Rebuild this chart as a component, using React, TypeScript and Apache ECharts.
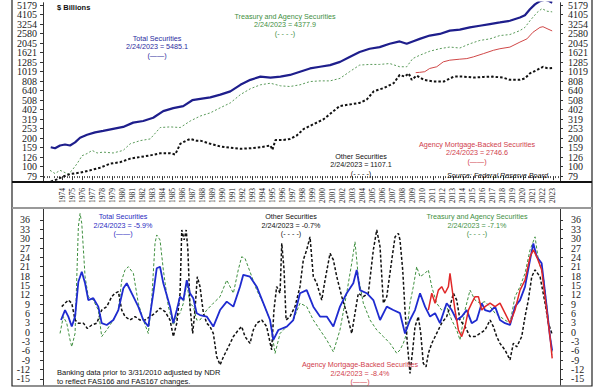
import React, { useEffect, useRef } from "react";
import * as echarts from "echarts";

// ---------- axis labels ----------
const LEVEL_LABELS = [79, 100, 126, 159, 200, 253, 319, 402, 508, 640, 808, 1019, 1285, 1621, 2045, 2580, 3254, 4105, 5179];
const PCT_LABELS = [-15, -12, -9, -6, -3, 0, 3, 6, 9, 12, 15, 18, 21, 24, 27, 30, 33, 36];
const YEAR_LABELS = [1974, 1975, 1976, 1977, 1978, 1979, 1980, 1981, 1982, 1983, 1984, 1985, 1986, 1987, 1988, 1989, 1990, 1991, 1992, 1993, 1994, 1995, 1996, 1997, 1998, 1999, 2000, 2001, 2002, 2003, 2004, 2005, 2006, 2007, 2008, 2009, 2010, 2011, 2012, 2013, 2014, 2015, 2016, 2017, 2018, 2019, 2020, 2021, 2022, 2023];

// ---------- top panel: levels ($ billions) ----------
const totalLevel: [number, number][] = [
  [1972.87, 160], [1973.3, 156], [1973.8, 167], [1974.3, 171], [1974.8, 167], [1975.3, 180], [1975.8, 202], [1976.5, 217],
  [1977.3, 230], [1978.1, 239], [1979.1, 251], [1980.1, 263], [1981.1, 292], [1982.1, 304], [1983.1, 329], [1984.1, 387],
  [1985.1, 416], [1986.1, 437], [1987.0, 505], [1987.8, 521], [1988.8, 542], [1989.8, 579], [1990.8, 627], [1991.8, 736],
  [1992.8, 831], [1993.8, 899], [1994.8, 878], [1995.8, 899], [1996.75, 937], [1997.75, 1014], [1998.75, 1098], [1999.75, 1144],
  [2000.75, 1192], [2001.75, 1290], [2002.7, 1456], [2003.7, 1642], [2004.7, 1778], [2005.7, 1850], [2006.7, 2006], [2007.7, 2125],
  [2008.4, 2006], [2009.0, 2125], [2009.7, 2262], [2010.7, 2454], [2011.7, 2552], [2012.7, 2769], [2013.7, 2836], [2014.7, 2995],
  [2015.7, 3118], [2016.7, 3245], [2017.7, 3380], [2018.7, 3521], [2019.7, 3813], [2020.2, 4031], [2020.7, 4660], [2021.2, 5255],
  [2021.7, 5700], [2022.2, 5900], [2022.6, 5700], [2022.92, 5485],
];
const treasuryLevel: [number, number][] = [
  [1972.8, 91], [1973.3, 84], [1973.8, 91], [1974.1, 88], [1974.6, 83], [1975.0, 91], [1975.5, 107], [1976.0, 130],
  [1976.5, 137], [1977.0, 148], [1977.5, 139], [1978.1, 142], [1979.1, 139], [1980.1, 148], [1980.8, 174], [1981.8, 188],
  [1982.8, 196], [1983.8, 259], [1984.8, 263], [1985.8, 259], [1986.8, 304], [1987.8, 343], [1988.8, 371], [1989.8, 420],
  [1990.8, 473], [1991.8, 579], [1992.8, 669], [1993.8, 736], [1994.8, 765], [1995.8, 718], [1996.75, 706], [1997.75, 736],
  [1998.75, 797], [1999.75, 810], [2000.75, 810], [2001.75, 862], [2002.7, 1014], [2003.7, 1192], [2004.7, 1211], [2005.7, 1211],
  [2006.7, 1238], [2007.7, 1144], [2008.4, 1144], [2009.0, 1397], [2009.7, 1516], [2010.7, 1672], [2011.7, 1780], [2012.7, 1853],
  [2013.7, 1808], [2014.7, 2006], [2015.7, 2178], [2016.7, 2262], [2017.7, 2454], [2018.7, 2515], [2019.7, 2769], [2020.2, 2995],
  [2020.7, 3521], [2021.4, 4301], [2021.9, 4739], [2022.4, 4450], [2022.92, 4378],
];
const otherLevel: [number, number][] = [
  [1972.87, 69], [1973.5, 73], [1974.1, 78], [1974.8, 83], [1975.8, 86], [1976.8, 91], [1977.8, 97], [1978.8, 107],
  [1979.8, 111], [1980.8, 121], [1981.8, 126], [1982.8, 131], [1983.8, 138], [1984.8, 138], [1985.3, 134], [1985.8, 174],
  [1986.4, 188], [1986.8, 196], [1987.4, 188], [1987.8, 188], [1988.8, 174], [1989.8, 163], [1990.8, 158], [1991.8, 154],
  [1992.8, 156], [1993.8, 160], [1994.8, 167], [1995.0, 150], [1995.3, 191], [1996.1, 191], [1996.75, 196], [1997.4, 212],
  [1998.1, 249], [1999.1, 281], [2000.1, 317], [2001.1, 387], [2001.7, 437], [2002.7, 455], [2003.7, 473], [2004.4, 512],
  [2005.1, 627], [2006.1, 679], [2007.1, 765], [2007.7, 937], [2008.2, 899], [2008.6, 974], [2008.9, 831], [2009.4, 922],
  [2010.1, 831], [2011.1, 797], [2012.1, 797], [2013.1, 899], [2014.1, 899], [2015.1, 878], [2016.1, 893], [2017.0, 899],
  [2018.0, 878], [2018.7, 831], [2019.7, 831], [2020.2, 862], [2020.7, 974], [2021.4, 1056], [2022.0, 1144], [2022.5, 1098],
  [2022.92, 1107],
];
const mbsLevel: [number, number][] = [
  [2009.3, 991], [2009.7, 998], [2010.2, 1014], [2010.7, 1098], [2011.4, 1144], [2012.05, 1290], [2012.7, 1344], [2013.7, 1377],
  [2014.4, 1397], [2015.05, 1456], [2016.05, 1576], [2017.05, 1711], [2017.7, 1778], [2018.7, 1850], [2019.7, 2091], [2020.4, 2262],
  [2021.0, 2659], [2021.7, 2995], [2022.0, 3047], [2022.5, 2876], [2022.92, 2747],
];

// ---------- bottom panel: yearly % change ----------
const totalPct: [number, number][] = [
  [1973.9, 3.9], [1974.3, 7.1], [1974.63, 5.0], [1974.97, 1.8], [1975.3, 5.0], [1975.63, 16.2], [1975.97, 19.4], [1976.3, 15.7],
  [1976.62, 10.3], [1977.12, 10.9], [1977.62, 8.2], [1977.96, 2.9], [1978.46, 2.3], [1979.12, 3.9], [1979.62, 7.1], [1980.12, 14.1],
  [1980.46, 15.7], [1981.12, 11.4], [1981.61, 8.2], [1982.11, 3.9], [1982.61, 1.8], [1983.11, 12.5], [1983.45, 20.5], [1983.78, 21.0],
  [1984.11, 15.7], [1984.78, 8.2], [1985.11, 2.9], [1985.45, 7.1], [1985.78, 11.4], [1986.11, 10.3], [1986.45, 16.7], [1986.77, 12.5],
  [1987.1, 10.9], [1987.44, 6.1], [1987.77, 5.5], [1988.44, 5.0], [1989.1, 1.8], [1989.77, 7.1], [1990.44, 9.8], [1991.1, 8.2],
  [1991.76, 14.6], [1992.09, 18.4], [1992.76, 17.8], [1993.43, 14.6], [1994.09, 9.3], [1994.76, 3.9], [1995.09, -2.5], [1995.59, 0.7],
  [1996.43, 1.8], [1997.08, 3.9], [1997.75, 12.5], [1998.42, 13.5], [1999.08, 8.2], [1999.75, 5.0], [2000.42, 5.0], [2001.08, 1.8],
  [2001.74, 8.2], [2002.41, 12.5], [2003.07, 15.7], [2003.41, 20.0], [2003.74, 13.5], [2004.41, 12.5], [2005.07, 10.3], [2005.74, 3.9],
  [2006.41, 8.2], [2007.06, 7.1], [2007.73, 6.1], [2008.23, -0.4], [2008.73, 3.9], [2009.23, 7.1], [2009.73, 12.5], [2010.23, 8.2],
  [2010.73, 5.0], [2011.23, 6.1], [2011.72, 2.9], [2012.39, 9.3], [2012.89, 7.1], [2013.39, 3.9], [2013.89, 5.0], [2014.39, 7.1],
  [2014.89, 2.9], [2015.39, 3.9], [2015.89, 9.3], [2016.22, 7.1], [2016.72, 6.6], [2017.22, 8.2], [2017.71, 3.9], [2018.21, 2.9],
  [2018.71, 2.3], [2019.21, 8.2], [2019.71, 10.3], [2020.21, 14.6], [2020.71, 23.2], [2021.04, 28.5], [2021.38, 24.2], [2021.87, 22.1],
  [2022.37, 8.2], [2022.7, -1.4], [2022.92, -5.9],
];
const treasuryPct: [number, number][] = [
  [1973.8, -0.4], [1974.13, 5.0], [1974.47, 2.9], [1974.8, -2.5], [1974.97, -4.7], [1975.3, -0.4], [1975.63, 33.9], [1975.8, 38.1],
  [1975.97, 34.9], [1976.3, 17.8], [1976.62, 11.4], [1977.12, 10.3], [1977.62, 7.1], [1977.96, -1.4], [1978.46, 0.7], [1979.12, 3.9],
  [1979.62, 7.1], [1979.96, 16.7], [1980.29, 20.0], [1980.62, 21.0], [1981.12, 18.9], [1981.61, 9.3], [1982.11, 3.9], [1982.61, -0.4],
  [1982.95, 10.3], [1983.28, 28.5], [1983.45, 31.2], [1983.78, 29.6], [1984.11, 20.0], [1984.61, 8.2], [1985.11, 2.3], [1985.45, 5.0],
  [1985.78, 6.1], [1986.11, 9.3], [1986.45, 15.7], [1986.77, 9.3], [1987.1, 8.2], [1987.44, 3.9], [1987.77, 3.9], [1988.44, 7.1],
  [1989.1, 9.3], [1989.77, 11.4], [1990.44, 16.7], [1991.1, 12.5], [1991.59, 20.0], [1991.93, 24.2], [1992.26, 23.7], [1992.76, 19.4],
  [1993.43, 13.5], [1994.09, 9.3], [1994.76, 3.9], [1995.26, -6.8], [1995.76, -0.4], [1996.43, 1.8], [1997.08, 3.9], [1997.75, 9.3],
  [1998.42, 8.2], [1999.08, 3.9], [1999.75, 0.7], [2000.42, -2.5], [2001.08, -6.3], [2001.74, 0.7], [2002.41, 12.5], [2002.91, 22.1],
  [2003.24, 29.0], [2003.57, 17.8], [2004.07, 9.3], [2004.74, 3.9], [2005.41, 0.7], [2006.07, -1.4], [2006.74, -3.6], [2007.41, -6.8],
  [2007.73, -5.7], [2008.06, -3.6], [2008.4, -0.4], [2008.73, 9.3], [2009.06, 14.6], [2009.4, 21.0], [2009.73, 17.8], [2010.23, 18.9],
  [2010.56, 20.0], [2010.9, 14.6], [2011.39, 9.3], [2011.89, 7.1], [2012.39, 8.2], [2012.89, 3.9], [2013.39, 0.7], [2013.72, -2.5],
  [2014.22, 7.1], [2014.72, 13.5], [2015.22, 10.3], [2015.72, 9.3], [2016.22, 9.8], [2016.72, 8.2], [2017.22, 6.1], [2017.71, 5.0],
  [2018.21, 3.9], [2018.71, 2.9], [2019.21, 11.4], [2019.71, 14.6], [2020.21, 18.9], [2020.71, 26.4], [2021.21, 30.6], [2021.54, 23.2],
  [2022.04, 17.8], [2022.54, 3.9], [2022.92, -7.1],
];
const otherPct: [number, number][] = [
  [1973.97, 8.2], [1974.3, 9.3], [1974.63, 10.3], [1974.97, 9.3], [1975.3, 3.9], [1975.63, 2.9], [1976.13, 2.9], [1976.53, 1.2],
  [1976.97, 2.3], [1977.47, 2.9], [1977.96, 7.1], [1978.46, 8.2], [1978.96, 11.4], [1979.29, 12.5], [1979.62, 13.0], [1979.96, 7.1],
  [1980.29, 5.0], [1980.79, 3.9], [1981.29, 5.0], [1981.78, 3.9], [1982.28, 3.9], [1982.78, 5.0], [1983.28, 6.1], [1983.78, 7.7],
  [1984.28, 6.6], [1984.78, 3.9], [1985.11, -1.4], [1985.45, 2.9], [1985.78, 12.5], [1985.95, 32.8], [1986.19, 29.6], [1986.39, 32.8],
  [1986.56, 26.4], [1986.77, 8.2], [1987.04, -0.4], [1987.27, 7.1], [1987.5, 17.8], [1987.77, 14.6], [1988.11, 6.1], [1988.44, 2.9],
  [1988.77, 1.8], [1989.1, -0.4], [1989.44, -7.9], [1989.77, -10.5], [1990.11, -7.9], [1990.61, -4.7], [1991.1, -1.4], [1991.6, 0.7],
  [1991.93, 1.8], [1992.26, -1.4], [1992.76, -3.6], [1993.09, 0.7], [1993.43, 2.9], [1993.93, 3.9], [1994.42, 1.8], [1994.92, -5.7],
  [1995.15, 7.1], [1995.42, 14.6], [1995.76, 12.5], [1995.93, 28.5], [1996.16, 20.0], [1996.36, 3.9], [1996.75, 5.0], [1997.25, 8.2],
  [1997.75, 14.6], [1998.08, 23.2], [1998.42, 26.4], [1998.75, 30.6], [1999.08, 17.8], [1999.42, 15.7], [1999.92, 10.3], [2000.25, 16.7],
  [2000.75, 25.3], [2001.08, 23.2], [2001.42, 17.8], [2001.92, 11.4], [2002.41, 6.1], [2002.91, -0.4], [2003.24, 6.1], [2003.57, 12.5],
  [2004.07, 11.4], [2004.57, 12.5], [2005.07, 26.4], [2005.41, 32.8], [2005.74, 27.4], [2006.07, 9.3], [2006.41, 11.4], [2006.91, 23.2],
  [2007.24, 30.6], [2007.57, 31.7], [2007.73, 29.6], [2008.0, 20.0], [2008.23, 7.1], [2008.46, -3.6], [2008.73, -13.2], [2009.0, -5.7],
  [2009.23, 1.8], [2009.56, 5.0], [2009.8, -0.4], [2010.06, -10.0], [2010.33, -11.1], [2010.56, -6.8], [2010.9, -3.6], [2011.39, -0.4],
  [2011.89, 2.9], [2012.39, 5.0], [2012.72, 8.2], [2013.06, 12.5], [2013.39, 10.3], [2013.72, 3.9], [2014.22, 1.8], [2014.72, -1.4],
  [2015.22, -1.4], [2015.72, -0.4], [2016.22, 0.7], [2016.72, 3.9], [2017.05, 1.8], [2017.38, -1.4], [2017.71, -3.6], [2018.21, -5.7],
  [2018.71, -8.9], [2019.04, -3.6], [2019.38, -4.7], [2019.88, -1.4], [2020.21, 5.0], [2020.54, 10.3], [2020.88, 17.8], [2021.21, 20.0],
  [2021.71, 17.8], [2022.21, 9.3], [2022.54, 2.9], [2022.92, -0.7],
];
const mbsPct: [number, number][] = [
  [2010.56, 7.1], [2010.9, 12.5], [2011.23, 9.3], [2011.56, 13.5], [2011.89, 14.6], [2012.22, 12.5], [2012.56, 14.6], [2012.72, 18.9],
  [2012.99, 12.5], [2013.22, 7.1], [2013.56, 0.7], [2013.89, -1.4], [2014.22, 1.8], [2014.56, 7.1], [2014.89, 9.3], [2015.22, 11.4],
  [2015.56, 11.4], [2015.89, 7.1], [2016.22, 8.2], [2016.72, 9.3], [2017.22, 8.2], [2017.71, 9.3], [2018.21, 6.1], [2018.71, 2.9],
  [2019.21, 7.1], [2019.71, 13.5], [2020.21, 16.7], [2020.71, 24.2], [2021.04, 26.4], [2021.38, 24.2], [2021.87, 20.0], [2022.37, 7.1],
  [2022.7, -1.4], [2022.87, -6.8], [2022.92, -8.4],
];

// ---------- colours ----------
const NAVY = "#1e1e8c";
const BLUE = "#1f2bd0";
const GREEN = "#3f8f3f";
const RED = "#e02828";
const BLACK = "#111111";

export default function App() {
  const ref = useRef<HTMLDivElement>(null);

  useEffect(() => {
    if (!ref.current) return;
    const chart = echarts.init(ref.current, null, { renderer: "svg" });

    // log-scale helper: position in units of label steps
    const R = Math.pow(LEVEL_LABELS[LEVEL_LABELS.length - 1] / LEVEL_LABELS[0], 1 / (LEVEL_LABELS.length - 1));
    const toT = (v: number) => Math.log(v / LEVEL_LABELS[0]) / Math.log(R);
    const lvl = (arr: [number, number][]) => arr.map(([x, v]) => [x, toT(v)]);
    const stepIdx = LEVEL_LABELS.map((_, i) => i);
    const evens = <T,>(a: T[]) => a.filter((_, i) => i % 2 === 0);
    const odds = <T,>(a: T[]) => a.filter((_, i) => i % 2 === 1);

    const XMIN = 1972.1;
    const XMAX = 2023.7;
    const quarterTicks: number[] = [];
    for (let y = 1972; y <= 2023; y++) {
      [0.25, 0.5, 0.75].forEach((q) => {
        const v = y + q;
        if (v > XMIN && v < XMAX) quarterTicks.push(v);
      });
    }

    const levelFmt = (v: number) => {
      const i = Math.round(v);
      return LEVEL_LABELS[i] !== undefined ? String(LEVEL_LABELS[i]) : "";
    };
    const pctFmt = (v: number) => String(Math.round(v));

    // one visible axis (line + ticks + half of the labels) and one label-only twin
    const yAxisPair = (gridIndex: number, position: string, min: number, max: number, vals: number[], fmt: any, margin: number) => {
      const label = (cv: number[]) => ({
        fontFamily: "Liberation Serif",
        fontSize: 10,
        color: "#222",
        customValues: cv,
        formatter: fmt,
        margin,
        hideOverlap: false,
        showMinLabel: true,
        showMaxLabel: true,
      });
      return [
        {
          type: "value", gridIndex, position, min, max,
          splitLine: { show: false },
          axisLine: { show: true, onZero: false, lineStyle: { color: "#333", width: 1 } },
          axisTick: { show: true, inside: false, length: 3, customValues: vals, lineStyle: { color: "#333" } },
          axisLabel: label(evens(vals)),
        },
        {
          type: "value", gridIndex, position, min, max, offset: 0,
          splitLine: { show: false },
          axisLine: { show: false },
          axisTick: { show: false },
          axisLabel: label(odds(vals)),
        },
      ];
    };

    const sans = "Liberation Sans";
    const txt = (text: string, x: number, y: number, fill: string, extra: any = {}) => ({
      type: "text",
      x,
      y,
      z: 100,
      style: {
        text,
        fill,
        fontFamily: sans,
        fontSize: 7.2,
        textAlign: "center",
        textVerticalAlign: "middle",
        ...extra,
      },
    });
    const block = (cx: number, y0: number, lines: string[], fill: string) =>
      lines.map((t, i) => txt(t, cx, y0 + i * 8.5, fill));

    const option: any = {
      animation: false,
      backgroundColor: "#ffffff",
      grid: [
        { left: 43, right: 40, top: 0, height: 182, show: false },
        { left: 43, right: 40, top: 208, height: 177, show: false },
      ],
      xAxis: [
        {
          type: "value",
          gridIndex: 0,
          min: XMIN,
          max: XMAX,
          position: "bottom",
          splitLine: { show: false },
          axisLine: { show: false },
          axisTick: { show: true, inside: false, length: 4, customValues: YEAR_LABELS, lineStyle: { color: "#333" } },
          axisLabel: {
            customValues: YEAR_LABELS,
            rotate: 90,
            margin: 6,
            fontFamily: "Liberation Serif",
            fontSize: 7.5,
            color: "#222",
            hideOverlap: false,
            showMinLabel: true,
            showMaxLabel: true,
            formatter: (v: number) => String(Math.round(v)),
          },
        },
        {
          type: "value",
          gridIndex: 0,
          min: XMIN,
          max: XMAX,
          position: "bottom",
          splitLine: { show: false },
          axisLine: { show: false },
          axisTick: { show: true, inside: false, length: 2, customValues: quarterTicks, lineStyle: { color: "#555" } },
          axisLabel: { show: false },
        },
        {
          type: "value",
          gridIndex: 1,
          min: XMIN,
          max: XMAX,
          show: false,
        },
      ],
      yAxis: [
        ...yAxisPair(0, "left", -0.622, 18.24, stepIdx, levelFmt, 6),   // 0,1
        ...yAxisPair(0, "right", -0.622, 18.24, stepIdx, levelFmt, 8),  // 2,3
        ...yAxisPair(1, "left", -16.95, 39.85, PCT_LABELS, pctFmt, 13), // 4,5
        ...yAxisPair(1, "right", -16.95, 39.85, PCT_LABELS, pctFmt, 11),// 6,7
      ],
      series: [
        // top panel
        {
          name: "Treasury and Agency Securities",
          type: "line", xAxisIndex: 0, yAxisIndex: 0, data: lvl(treasuryLevel),
          symbol: "none", showSymbol: false, z: 2,
          lineStyle: { color: "#5a9a5a", width: 1, type: [2, 2] },
        },
        {
          name: "Agency Mortgage-Backed Securities",
          type: "line", xAxisIndex: 0, yAxisIndex: 0, data: lvl(mbsLevel),
          symbol: "none", showSymbol: false, z: 2,
          lineStyle: { color: "#d04848", width: 1 },
        },
        {
          name: "Other Securities",
          type: "line", xAxisIndex: 0, yAxisIndex: 0, data: lvl(otherLevel),
          symbol: "none", showSymbol: false, z: 3,
          lineStyle: { color: BLACK, width: 2, type: [2.5, 2] },
        },
        {
          name: "Total Securities",
          type: "line", xAxisIndex: 0, yAxisIndex: 0, data: lvl(totalLevel),
          symbol: "none", showSymbol: false, z: 4,
          lineStyle: { color: NAVY, width: 2.2 },
        },
        // bottom panel
        {
          name: "Treasury and Agency Securities %",
          type: "line", xAxisIndex: 2, yAxisIndex: 4, data: treasuryPct,
          symbol: "none", showSymbol: false, z: 2,
          lineStyle: { color: GREEN, width: 1, type: [3, 2] },
        },
        {
          name: "Other Securities %",
          type: "line", xAxisIndex: 2, yAxisIndex: 4, data: otherPct,
          symbol: "none", showSymbol: false, z: 3,
          lineStyle: { color: BLACK, width: 1.5, type: [3, 2] },
        },
        {
          name: "Total Securities %",
          type: "line", xAxisIndex: 2, yAxisIndex: 4, data: totalPct,
          symbol: "none", showSymbol: false, z: 4,
          lineStyle: { color: BLUE, width: 1.8 },
        },
        {
          name: "Agency Mortgage-Backed Securities %",
          type: "line", xAxisIndex: 2, yAxisIndex: 4, data: mbsPct,
          symbol: "none", showSymbol: false, z: 5,
          lineStyle: { color: RED, width: 1.5 },
        },
      ],
      graphic: [
        // frames
        { type: "rect", z: 50, shape: { x: 12, y: -5, width: 580, height: 391 }, style: { fill: "none", stroke: "#222", lineWidth: 1.2 } },
        { type: "line", z: 50, shape: { x1: 12, y1: 182, x2: 592, y2: 182 }, style: { stroke: "#111", lineWidth: 2 } },
        { type: "line", z: 50, shape: { x1: 12, y1: 208, x2: 592, y2: 208 }, style: { stroke: "#999", lineWidth: 2 } },
        // top panel texts
        txt("$ Billions", 57, 7.5, "#111", { textAlign: "left", fontWeight: "bold", fontSize: 7.5 }),
        ...block(157, 38, ["Total Securities", "2/24/2023 = 5485.1", "(——)"], "#2a2a9e"),
        ...block(285, 16, ["Treasury and Agency Securities", "2/24/2023 = 4377.9", "(- - - -)"], GREEN),
        ...block(361, 156, ["Other Securities", "2/24/2023 = 1107.1", "(- - - -)"], "#111"),
        ...block(477, 144, ["Agency Mortgage-Backed Securities", "2/24/2023 = 2746.6", "(——)"], "#d0404c"),
        txt("Source: Federal Reserve Board", 548, 175, "#111", { textAlign: "right", fontStyle: "italic" }),
        // bottom panel texts
        ...block(123, 216.5, ["Total Securities", "2/24/2023 = -5.9%", "(——)"], "#2a2ac0"),
        ...block(291, 216.5, ["Other Securities", "2/24/2023 = -0.7%", "(- - - -)"], "#111"),
        ...block(477, 216.5, ["Treasury and Agency Securities", "2/24/2023 = -7.1%", "(- - - -)"], GREEN),
        ...block(360, 364.5, ["Agency Mortgage-Backed Securities", "2/24/2023 = -8.4%", "(——)"], "#d0404c"),
        txt("Banking data prior to 3/31/2010 adjusted by NDR", 57, 372.5, "#111", { textAlign: "left", fontSize: 7.5 }),
        txt("to reflect FAS166 and FAS167 changes.", 57, 381, "#111", { textAlign: "left", fontSize: 7.5 }),
      ],
    };

    chart.setOption(option);
    return () => chart.dispose();
  }, []);

  return (
    <div
      ref={ref}
      style={{ position: "fixed", left: 0, top: 0, width: 600, height: 387, background: "#fff" }}
    />
  );
}
